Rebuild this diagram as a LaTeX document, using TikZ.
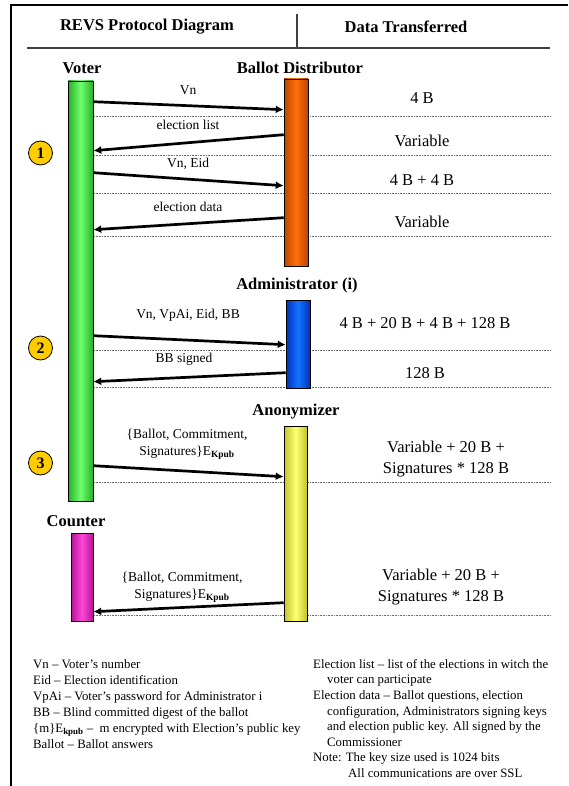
\documentclass[tikz,border=0pt]{standalone}
\usepackage{fontspec}
\setmainfont{Liberation Serif}
\usetikzlibrary{arrows.meta}
\definecolor{gold}{RGB}{255,204,0}
\definecolor{rulegray}{RGB}{64,64,64}
\definecolor{dotgray}{RGB}{110,110,110}
\definecolor{grnE}{RGB}{40,175,40}\definecolor{grnM}{RGB}{110,255,110}
\definecolor{orgE}{RGB}{190,70,0}\definecolor{orgM}{RGB}{255,110,10}
\definecolor{bluE}{RGB}{0,50,185}\definecolor{bluM}{RGB}{20,115,255}
\definecolor{yelE}{RGB}{195,195,45}\definecolor{yelM}{RGB}{255,255,115}
\definecolor{magE}{RGB}{180,20,150}\definecolor{magM}{RGB}{255,70,215}
\begin{document}
\begin{tikzpicture}[x=1pt,y=-1pt,
  hdr/.style={inner sep=0pt,font=\fontsize{16.5}{18}\selectfont\bfseries},
  actor/.style={inner sep=0pt,font=\fontsize{16.5}{18}\selectfont\bfseries},
  msglbl/.style={inner sep=0pt,align=center,font=\fontsize{13.5}{17}\selectfont},
  datalbl/.style={inner sep=0pt,align=center,font=\fontsize{16.5}{21}\selectfont},
  bar/.style={rectangle,draw=black,line width=0.6pt,inner sep=0pt},
  msg/.style={line width=2.7pt,-{Latex[length=8pt,width=8pt]}},
  sep/.style={dotgray,line width=0.9pt,dash pattern=on 0.8pt off 0.8pt},
  numc/.style={circle,draw=black,line width=0.8pt,fill=gold,minimum size=24pt,inner sep=0pt,font=\fontsize{16}{18}\selectfont\bfseries},
  legend/.style={inner sep=0pt,align=left,anchor=north west}
]
\useasboundingbox (0,0) rectangle (568,786);
% frame
\draw[line width=2pt] (10,5.5) -- (568,5.5);
\draw[line width=2pt] (11,4.5) -- (11,786);
% header
\node[hdr] (hdrA) at (147,27) {REVS Protocol Diagram};
\node[hdr] (hdrB) at (406,27) {Data Transferred};
\draw[rulegray,line width=1.5pt] (297,14) -- (297,47);
\draw[rulegray,line width=2pt] (27,48.5) -- (550,48.5);
% dotted separators
\draw[sep] (94,116) -- (551,116);
\draw[sep] (94,155) -- (551,155);
\draw[sep] (94,193) -- (551,193);
\draw[sep] (94,236) -- (551,236);
\draw[sep] (94,350) -- (551,350);
\draw[sep] (94,387) -- (551,387);
\draw[sep] (94,482) -- (551,482);
\draw[sep] (94,615) -- (551,615);
% actors
\node[actor] (voterlbl) at (82,68) {Voter};
\node[actor] (bdlbl) at (300,68) {Ballot Distributor};
\node[actor] (adlbl) at (297,286) {Administrator (i)};
\node[actor] (anlbl) at (296,412) {Anonymizer};
\node[actor] (colbl) at (76,521) {Counter};
\node[bar,minimum width=25pt,minimum height=420pt,left color=grnE,right color=grnE,middle color=grnM] (voter) at (80.5,291) {};
\node[bar,minimum width=24pt,minimum height=187pt,left color=orgE,right color=orgE,middle color=orgM] (bd) at (296,172.5) {};
\node[bar,minimum width=24pt,minimum height=88pt,left color=bluE,right color=bluE,middle color=bluM] (adm) at (298,344) {};
\node[bar,minimum width=23pt,minimum height=195pt,left color=yelE,right color=yelE,middle color=yelM] (anon) at (295.5,523.5) {};
\node[bar,minimum width=22pt,minimum height=88pt,left color=magE,right color=magE,middle color=magM] (cnt) at (82,577) {};
% step circles
\node[numc] (c1) at (40.5,153) {1};
\node[numc] (c2) at (40.5,348) {2};
\node[numc] (c3) at (40.5,463) {3};
% messages
\draw[msg] ([yshift=-21pt]voter.north east) -- ([yshift=-31pt]bd.north west);
\node[msglbl] (m1) at (188,90) {Vn};
\draw[msg] ([yshift=-56pt]bd.north west) -- ([yshift=-70pt]voter.north east);
\node[msglbl] (m2) at (188,125) {election list};
\draw[msg] ([yshift=-92pt]voter.north east) -- ([yshift=-107pt]bd.north west);
\node[msglbl] (m3) at (188,164) {Vn, Eid};
\draw[msg] ([yshift=-139pt]bd.north west) -- ([yshift=-149pt]voter.north east);
\node[msglbl] (m4) at (188,207) {election data};
\draw[msg] ([yshift=-255pt]voter.north east) -- ([yshift=-45pt]adm.north west);
\node[msglbl] (m5) at (188,315) {Vn, VpAi, Eid, BB};
\draw[msg] ([yshift=-73pt]adm.north west) -- ([yshift=-301pt]voter.north east);
\node[msglbl] (m6) at (184,359) {BB signed};
\draw[msg] ([yshift=-385pt]voter.north east) -- ([yshift=-51pt]anon.north west);
\node[msglbl] (m7) at (187,444) {\{Ballot, Commitment,\\Signatures\}E\textsubscript{\textbf{Kpub}}};
\draw[msg] ([yshift=-177pt]anon.north west) -- ([yshift=-79pt]cnt.north east);
\node[msglbl] (m8) at (182,587) {\{Ballot, Commitment,\\Signatures\}E\textsubscript{\textbf{Kpub}}};
% data transferred
\node[datalbl] (d1) at (422,98) {4 B};
\node[datalbl] (d2) at (422,141) {Variable};
\node[datalbl] (d3) at (422,180) {4 B + 4 B};
\node[datalbl] (d4) at (422,222) {Variable};
\node[datalbl] (d5) at (425,323) {4 B + 20 B + 4 B + 128 B};
\node[datalbl] (d6) at (425,373) {128 B};
\node[datalbl] (d7) at (446,459.5) {Variable + 20 B +\\Signatures * 128 B};
\node[datalbl] (d8) at (441,587.5) {Variable + 20 B +\\Signatures * 128 B};
% legends
\node[legend,font=\fontsize{12.8}{16}\selectfont] (legL) at (33,659) {%
Vn – Voter’s number\\
Eid – Election identification\\
VpAi – Voter’s password for Administrator i\\
BB – Blind committed digest of the ballot\\
\{m\}E\textsubscript{\textbf{kpub}} – \ m encrypted with Election’s public key\\
Ballot – Ballot answers};
\node[legend,font=\fontsize{12.8}{15.6}\selectfont] (legR) at (313,659) {%
Election list – list of the elections in witch the\\
\hspace*{14pt}voter can participate\\
Election data – Ballot questions, election\\
\hspace*{14pt}configuration, Administrators signing keys\\
\hspace*{14pt}and election public key. All signed by the\\
\hspace*{14pt}Commissioner\\
Note: The key size used is 1024 bits\\
\hspace*{35pt}All communications are over SSL};
\end{tikzpicture}
\end{document}
